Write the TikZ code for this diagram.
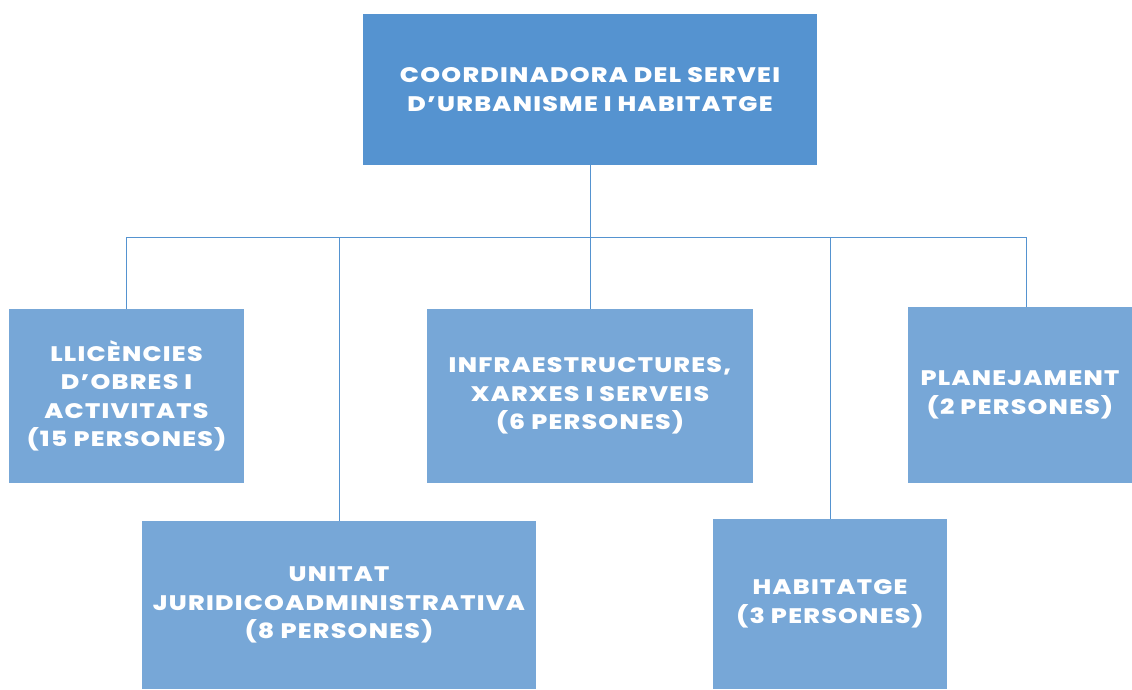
\documentclass[tikz,border=0pt]{standalone}
\usepackage{fontspec}
\newfontfamily\orgfont{Poppins ExtraBold}[LetterSpace=6,FakeStretch=1.2]
\definecolor{headblue}{HTML}{5593D0}
\definecolor{unitblue}{HTML}{77A7D7}
\tikzset{unit/.style={fill=unitblue,text=white,align=center,font=\orgfont\fontsize{21}{28.5}\selectfont,inner sep=0pt}}
\tikzset{link/.style={draw=headblue,line width=1pt}}

\begin{document}
\begin{tikzpicture}[x=1pt,y=-1pt]
	\useasboundingbox (0,0) rectangle (1132,689);
	\node [unit,fill=headblue,minimum width=454pt,minimum height=151pt] (coord) at (590,89.5) {COORDINADORA DEL SERVEI\\D’URBANISME I HABITATGE};
	\node [unit,minimum width=235pt,minimum height=174pt] (llic) at (126.5,396) {LLICÈNCIES\\D’OBRES I\\ACTIVITATS\\(15 PERSONES)};
	\node [unit,minimum width=326pt,minimum height=174pt] (infra) at (590,396) {INFRAESTRUCTURES,\\XARXES I SERVEIS\\(6 PERSONES)};
	\node [unit,minimum width=224pt,minimum height=176pt] (plan) at (1020,395) {PLANEJAMENT\\(2 PERSONES)};
	\node [unit,minimum width=394pt,minimum height=168pt] (unitat) at (339,605) {UNITAT\\JURIDICOADMINISTRATIVA\\(8 PERSONES)};
	\node [unit,minimum width=234pt,minimum height=170pt] (habit) at (830,604) {HABITATGE\\(3 PERSONES)};
	
	\coordinate (split) at (590,237);
	\draw [link] (coord) -- (split);
	\foreach \n in {llic, unitat, infra, habit} \draw [link] (split) -| (\n.north);
	\draw [link] (split) -| ([xshift=6pt]plan.north);
\end{tikzpicture}
\end{document}
